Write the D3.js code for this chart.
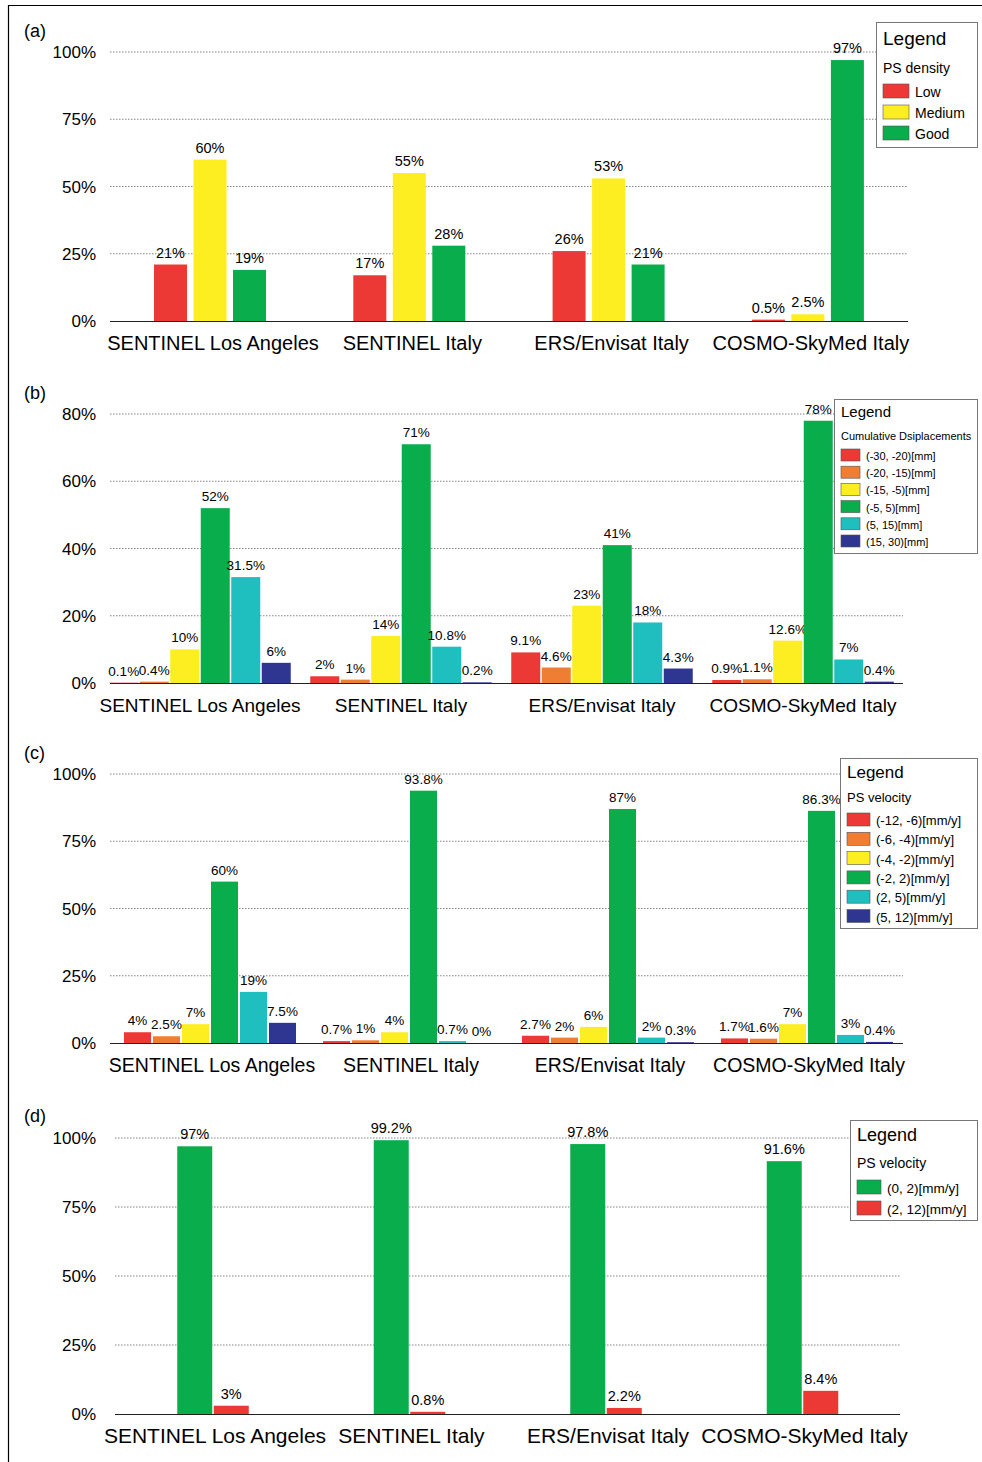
<!DOCTYPE html><html><head><meta charset="utf-8"><script src="https://cdn.jsdelivr.net/npm/d3@7"></script>
<style>body{margin:0;background:#fff}text{font-family:"Liberation Sans",Arial,sans-serif}</style></head><body><svg id="c" width="982" height="1462"></svg>
<script>
const categories=["SENTINEL Los Angeles","SENTINEL Italy","ERS/Envisat Italy","COSMO-SkyMed Italy"];
const C={red:"#ec3935",orange:"#f07e32",yellow:"#fcee21",green:"#0aad4b",cyan:"#1fbfbf",navy:"#2e3692"};
// (a)
const aNames=["Low","Medium","Good"];
const aValues=[[21,17,26,0.5],[60,55,53,2.5],[19,28,21,97]];
const aLabels=[["21%","17%","26%","0.5%"],["60%","55%","53%","2.5%"],["19%","28%","21%","97%"]];
const aTicks=[0,25,50,75,100];
// (b)
const bNames=["(-30, -20)[mm]","(-20, -15)[mm]","(-15, -5)[mm]","(-5, 5)[mm]","(5, 15)[mm]","(15, 30)[mm]"];
const bValues=[[0.1,2,9.1,0.9],[0.4,1,4.6,1.1],[10,14,23,12.6],[52,71,41,78],[31.5,10.8,18,7],[6,0.2,4.3,0.4]];
const bLabels=[["0.1%","2%","9.1%","0.9%"],["0.4%","1%","4.6%","1.1%"],["10%","14%","23%","12.6%"],["52%","71%","41%","78%"],["31.5%","10.8%","18%","7%"],["6%","0.2%","4.3%","0.4%"]];
const bTicks=[0,20,40,60,80];
// (c)
const cNames=["(-12, -6)[mm/y]","(-6, -4)[mm/y]","(-4, -2)[mm/y]","(-2, 2)[mm/y]","(2, 5)[mm/y]","(5, 12)[mm/y]"];
const cValues=[[4,0.7,2.7,1.7],[2.5,1,2,1.6],[7,4,6,7],[60,93.8,87,86.3],[19,0.7,2,3],[7.5,0,0.3,0.4]];
const cLabels=[["4%","0.7%","2.7%","1.7%"],["2.5%","1%","2%","1.6%"],["7%","4%","6%","7%"],["60%","93.8%","87%","86.3%"],["19%","0.7%","2%","3%"],["7.5%","0%","0.3%","0.4%"]];
// (d)
const dNames=["(0, 2)[mm/y]","(2, 12)[mm/y]"];
const dValues=[[97,99.2,97.8,91.6],[3,0.8,2.2,8.4]];
const dLabels=[["97%","99.2%","97.8%","91.6%"],["3%","0.8%","2.2%","8.4%"]];
const pctTicks=[0,25,50,75,100];

const svg=d3.select("#c");
svg.append("path").attr("d","M8.5,1462V5.5H982").attr("fill","none").attr("stroke","#000").attr("stroke-width",1.2);

function panel(o){
  const g=svg.append("g");
  const y=d3.scaleLinear().domain([0,o.max]).range([o.y0,o.y1]);
  const x=d3.scaleLinear().domain([0,1]).range([o.c0,o.c0+o.spacing]);
  g.append("text").attr("x",24).attr("y",o.tagY).attr("font-size",18).text(o.tag);
  o.ticks.forEach(t=>{
    if(t>0) g.append("line").attr("x1",o.gx0).attr("x2",o.gx1).attr("y1",y(t)).attr("y2",y(t)).attr("stroke","#666").attr("stroke-width",0.8).attr("stroke-dasharray","1.5,1.5");
    g.append("text").attr("x",96).attr("y",y(t)+6).attr("text-anchor","end").attr("font-size",17).text(t+"%");
  });
  const n=o.values.length;
  o.values.forEach((ser,si)=>{
    ser.forEach((v,ci)=>{
      const cx=x(ci)+(si-(n-1)/2)*o.step;
      g.append("rect").attr("x",cx-o.bw/2).attr("width",o.bw).attr("y",y(v)).attr("height",o.y0-y(v)).attr("fill",o.colors[si]);
      g.append("text").attr("x",cx).attr("y",y(v)-7).attr("text-anchor","middle").attr("font-size",o.vfs).attr("font-family","DejaVu Sans").text(o.labels[si][ci]);
    });
  });
  g.append("line").attr("x1",o.gx0).attr("x2",o.gx1).attr("y1",o.y0+0.5).attr("y2",o.y0+0.5).attr("stroke","#222").attr("stroke-width",1.2);
  categories.forEach((c,ci)=>g.append("text").attr("x",x(ci)+(o.lx||0)).attr("y",o.y0+29).attr("text-anchor","middle").attr("font-size",o.cfs).text(c));
  const L=o.leg;
  g.append("rect").attr("x",L.x+0.5).attr("y",L.y+0.5).attr("width",L.w).attr("height",L.h).attr("fill","#fff").attr("stroke","#777");
  g.append("text").attr("x",L.x+7).attr("y",L.y+L.ty).attr("font-size",L.tfs).text("Legend");
  g.append("text").attr("x",L.x+7).attr("y",L.y+L.sy).attr("font-size",L.sfs).text(L.sub);
  o.names.forEach((nm,i)=>{
    const yy=L.y+L.iy+i*L.ih;
    g.append("rect").attr("x",L.x+7).attr("y",yy).attr("width",L.sw).attr("height",L.sh).attr("fill",o.colors[i]).attr("stroke","#555").attr("stroke-width",0.6);
    g.append("text").attr("x",L.x+13+L.sw).attr("y",yy+L.sh-1).attr("font-size",L.ifs).text(nm);
  });
}
const six=[C.red,C.orange,C.yellow,C.green,C.cyan,C.navy];
panel({tag:"(a)",tagY:37,max:100,ticks:aTicks,y0:321,y1:52,c0:210,spacing:199.3,step:39.5,bw:33,gx0:110,gx1:908,
 values:aValues,labels:aLabels,colors:[C.red,C.yellow,C.green],names:aNames,vfs:14.5,lx:3,cfs:20,
 leg:{x:876,y:22,w:101,h:125,ty:23,tfs:19,sy:51,sfs:14,sub:"PS density",iy:62,ih:21,sw:26,sh:14,ifs:14}});
panel({tag:"(b)",tagY:399,max:80,ticks:bTicks,y0:683,y1:414,c0:200,spacing:201,step:30.5,bw:29,gx0:110,gx1:903,
 values:bValues,labels:bLabels,colors:six,names:bNames,vfs:13.5,cfs:19,
 leg:{x:834,y:399,w:143,h:154,ty:18,tfs:15,sy:41,sfs:11,sub:"Cumulative Dsiplacements",iy:50,ih:17.2,sw:19,sh:12,ifs:11}});
panel({tag:"(c)",tagY:759,max:100,ticks:pctTicks,y0:1043,y1:774,c0:210,spacing:199,step:29,bw:27,gx0:110,gx1:903,
 values:cValues,labels:cLabels,colors:six,names:cNames,vfs:13.5,cfs:19.5,lx:2,
 leg:{x:840,y:758,w:137,h:170,ty:20,tfs:17,sy:44,sfs:13,sub:"PS velocity",iy:55,ih:19.3,sw:23,sh:13,ifs:13}});
panel({tag:"(d)",tagY:1122,max:100,ticks:pctTicks,y0:1414,y1:1138,c0:213,spacing:196.5,step:36.5,bw:35,gx0:115,gx1:900,
 values:dValues,labels:dLabels,colors:[C.green,C.red],names:dNames,vfs:14.5,lx:2,cfs:21,
 leg:{x:850,y:1120,w:127,h:100,ty:21,tfs:18,sy:48,sfs:14,sub:"PS velocity",iy:60,ih:21,sw:24,sh:14,ifs:13.5}});
</script></body></html>
